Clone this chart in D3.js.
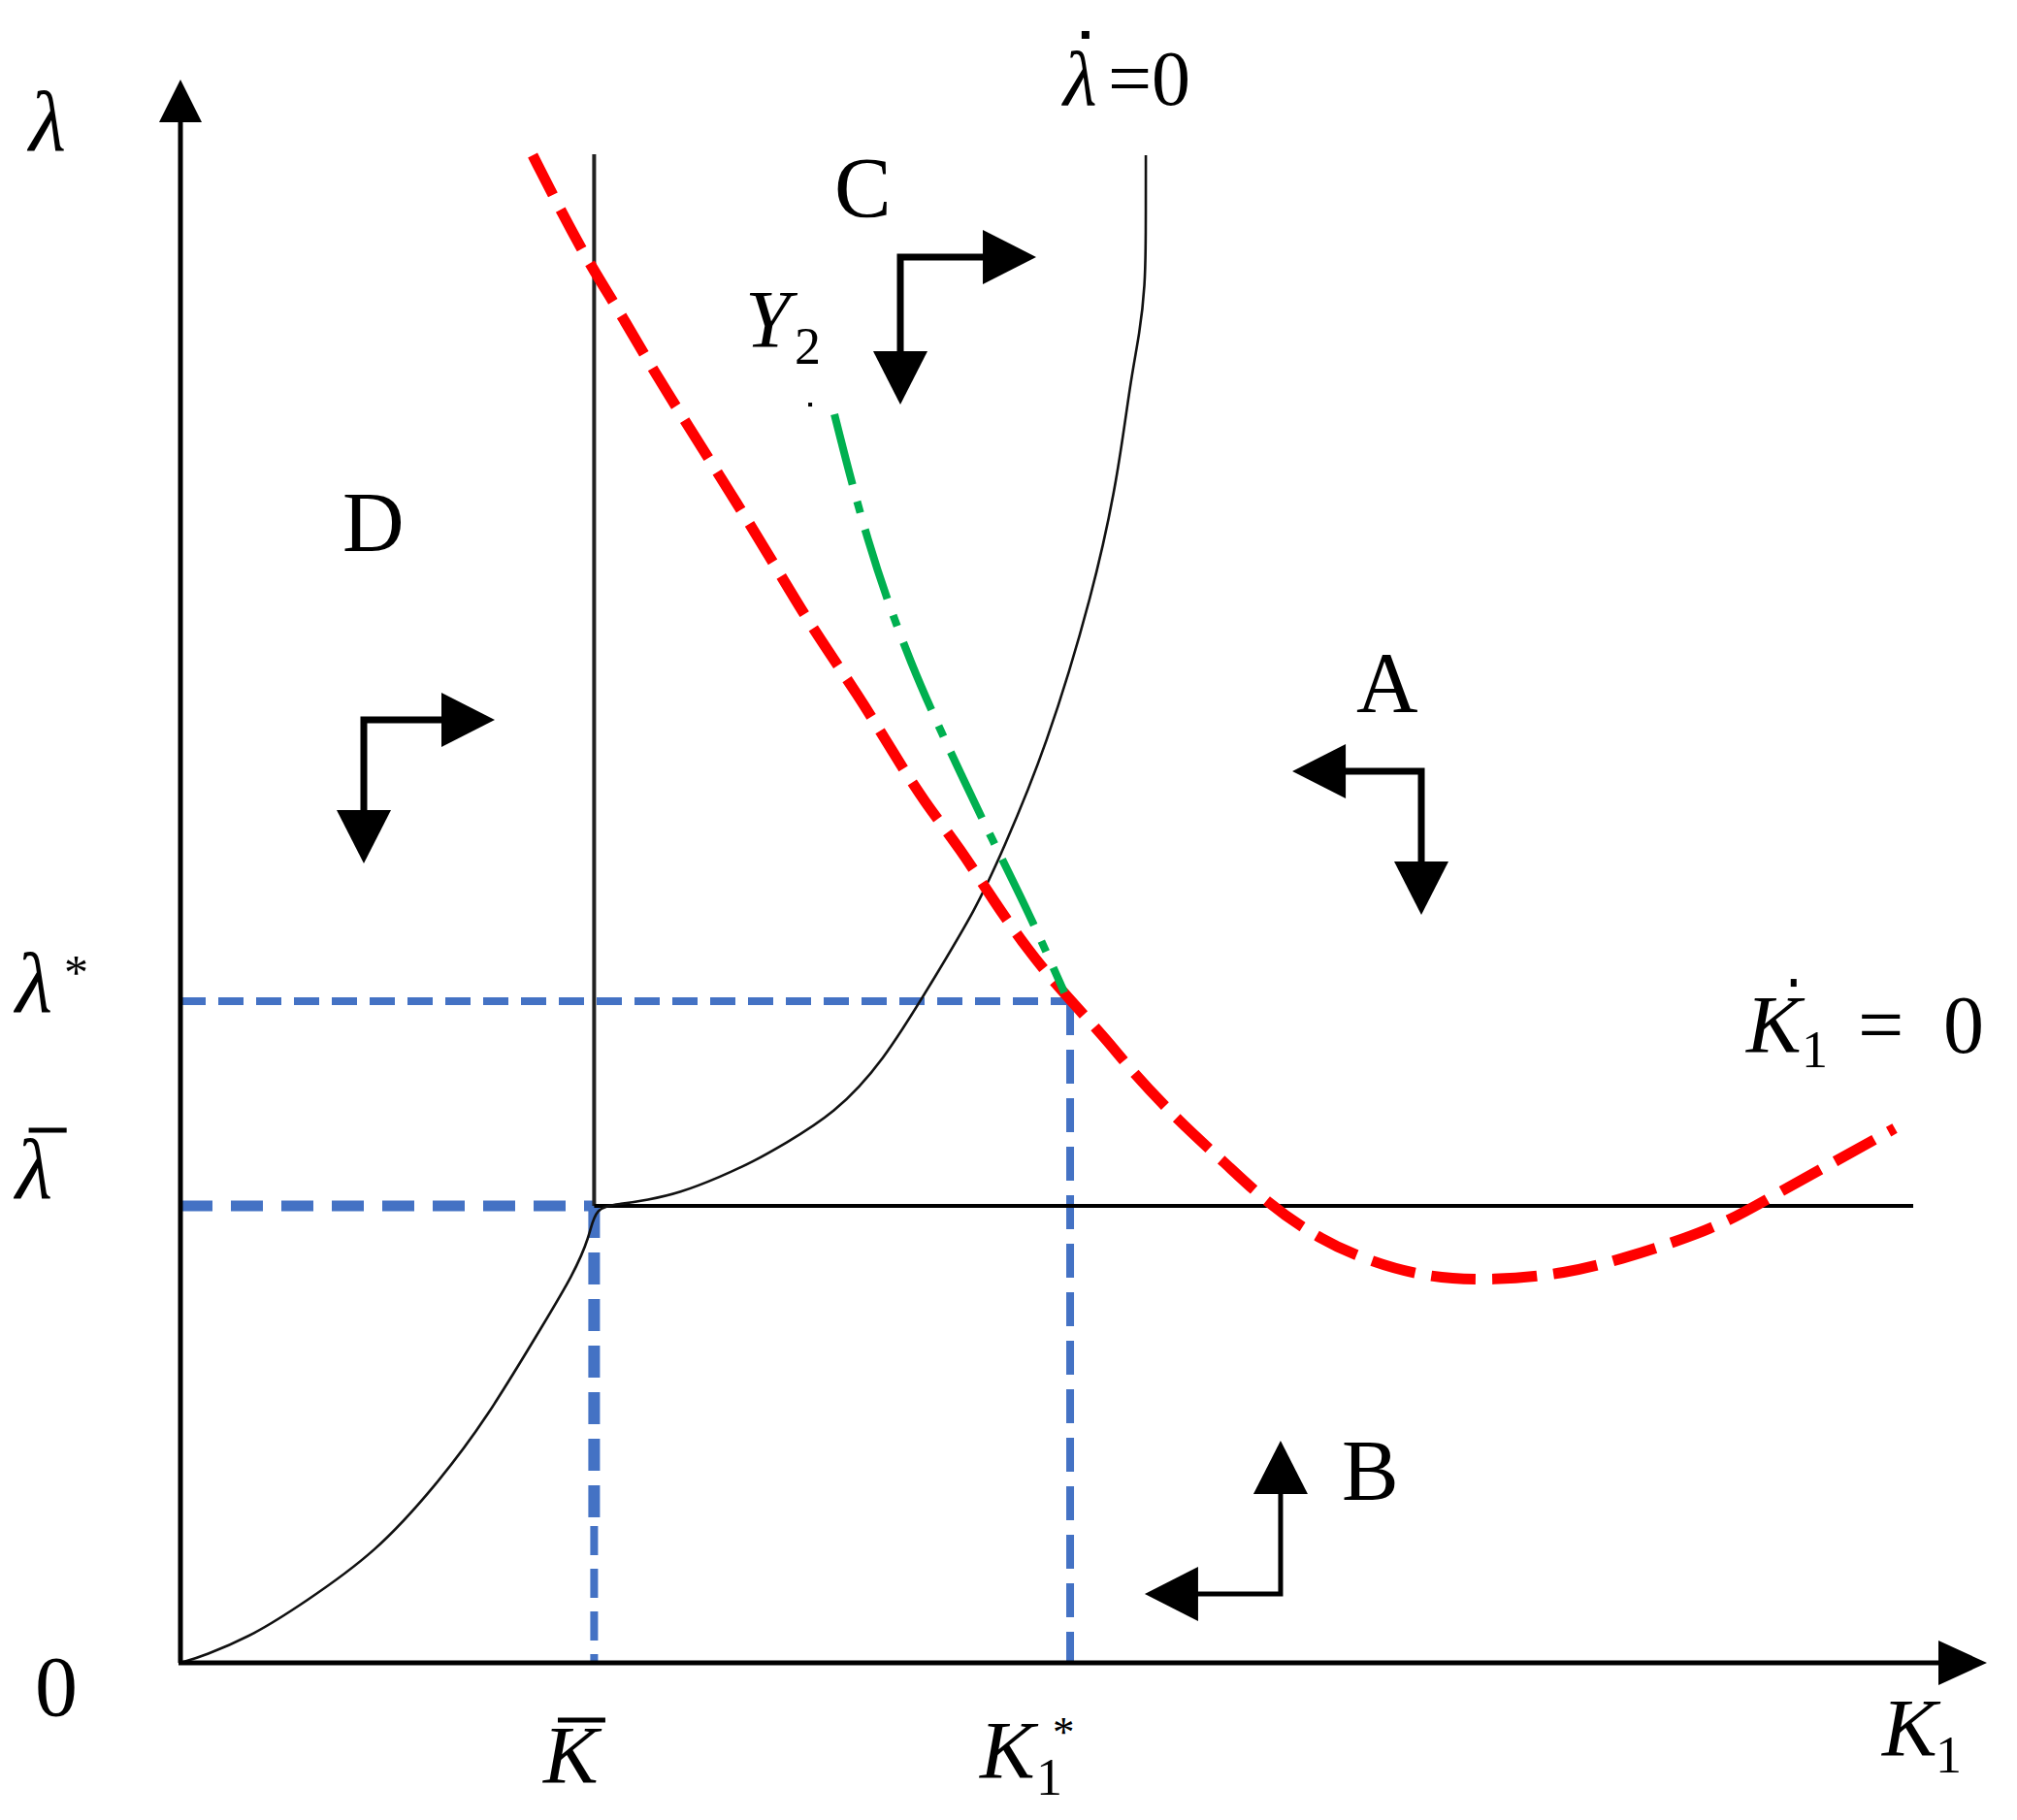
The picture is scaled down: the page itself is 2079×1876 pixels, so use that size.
<!DOCTYPE html>
<html>
<head>
<meta charset="utf-8">
<script src="https://cdn.jsdelivr.net/npm/d3@7"></script>
<style>
  html, body { margin: 0; padding: 0; background: #fff; }
  svg { display: block; }
  text { font-family: "Liberation Serif", "DejaVu Serif", serif; fill: #000; }
</style>
</head>
<body>
<svg id="chart" width="2079" height="1876"></svg>
<script>
// ---------- data (model units: K1 on 0..100, lambda on 0..100) ----------
const kBar = 22.9;
const kStar = 49.25;
const lambdaBar = 28.86;
const lambdaStar = 41.79;
const verticalLineTop = 95.28;
const horizontalLineEnd = 95.92;
const kBarThickEnd = 8.64;

// lambda-dot = 0 locus
const lambdaDotK = [0, 1.29, 4.08, 6.77, 10.85, 14.18, 16.86, 20.25, 21.70, 22.66, 22.93, 24.38, 25.83, 27.60, 29.91, 31.74, 33.35, 36.20, 38.88, 41.57, 44.09, 45.49, 47.91, 50.54, 51.88, 52.58, 53.11, 53.40, 53.44, 53.44];
const lambdaDotL = [0, 0.43, 1.78, 3.74, 6.99, 11.27, 15.26, 21.69, 24.45, 26.90, 28.80, 28.98, 29.23, 29.66, 30.70, 31.68, 32.72, 34.68, 37.93, 42.95, 47.73, 51.23, 57.72, 67.65, 74.82, 80.94, 84.01, 87.0, 90.0, 95.22];

// K1-dot = 0 locus (red dashed)
const k1DotK = [19.50, 21.16, 22.77, 24.60, 26.21, 32.06, 34.59, 37.65, 39.42, 41.19, 43.18, 45.06, 46.94, 48.71, 51.34, 52.47, 55.32, 57.73, 60.15, 63.00, 65.79, 69.01, 72.66, 76.69, 79.91, 82.76, 85.61, 88.40, 91.62, 94.90];
const k1DotL = [95.22, 91.48, 88.11, 84.80, 81.50, 71.02, 65.99, 60.91, 57.54, 54.35, 51.41, 48.04, 44.98, 42.52, 39.28, 37.62, 34.13, 31.68, 29.04, 26.78, 25.37, 24.33, 24.14, 24.57, 25.55, 26.59, 27.82, 29.66, 31.68, 33.76];

// saddle path Y2 (green dash-dot)
const y2K = [36.20, 37.97, 40.33, 43.45, 45.06, 46.94, 48.93];
const y2L = [78.86, 70.89, 63.17, 55.51, 51.72, 47.43, 42.34];
const y2Dot = [34.86, 79.47];

// phase arrows: corner, horizontal tip K, vertical tip lambda
const regionNames = ["C", "D", "A", "B"];
const arrowCornerK = [39.85, 10.15, 68.69, 60.90];
const arrowCornerL = [88.79, 59.56, 56.31, 4.35];
const arrowTipK = [47.37, 17.40, 61.55, 53.38];
const arrowTipL = [79.47, 50.49, 47.24, 14.03];
const regionLabelK = [36.20, 8.97, 65.09, 64.29];
const regionLabelL = [91.36, 70.22, 60.11, 10.36];

// ---------- scales ----------
const svg = d3.select("#chart");
const x = d3.scaleLinear().domain([0, 100]).range([186, 2048]);
const y = d3.scaleLinear().domain([0, 100]).range([1714, 82]);
const zip = (a, b) => a.map((v, i) => [v, b[i]]);
const line = d3.line().x(d => x(d[0])).y(d => y(d[1]));
const smooth = d3.line().x(d => x(d[0])).y(d => y(d[1])).curve(d3.curveBasis);

function head(g, tx, ty, dx, dy, len, half) {
  const bx = tx - dx * len, by = ty - dy * len;
  const px = -dy, py = dx;
  g.append("path")
    .attr("d", `M${tx},${ty}L${bx + px * half},${by + py * half}L${bx - px * half},${by - py * half}Z`)
    .attr("fill", "#000");
}

// ---------- blue reference lines ----------
const blue = "#4472c4";
svg.append("path").attr("d", line([[0, lambdaStar], [kStar, lambdaStar]]))
  .attr("stroke", blue).attr("stroke-width", 8).attr("stroke-dasharray", "26 13").attr("fill", "none");
svg.append("path").attr("d", line([[kStar, lambdaStar], [kStar, 0]]))
  .attr("stroke", blue).attr("stroke-width", 8).attr("stroke-dasharray", "35 15").attr("fill", "none");
svg.append("path").attr("d", line([[0, lambdaBar], [kBar, lambdaBar]]))
  .attr("stroke", blue).attr("stroke-width", 11).attr("stroke-dasharray", "33 19").attr("fill", "none");
svg.append("path").attr("d", line([[kBar, lambdaBar], [kBar, kBarThickEnd]]))
  .attr("stroke", blue).attr("stroke-width", 12).attr("stroke-dasharray", "33 15").attr("fill", "none");
svg.append("path").attr("d", line([[kBar, kBarThickEnd], [kBar, 0]]))
  .attr("stroke", blue).attr("stroke-width", 8).attr("stroke-dasharray", "30 14").attr("fill", "none");

// ---------- black boundary lines ----------
svg.append("path").attr("d", line([[kBar, verticalLineTop], [kBar, lambdaBar]]))
  .attr("stroke", "#222").attr("stroke-width", 4).attr("fill", "none");
svg.append("path").attr("d", line([[kBar, lambdaBar], [horizontalLineEnd, lambdaBar]]))
  .attr("stroke", "#000").attr("stroke-width", 4).attr("fill", "none");

// lambda-dot = 0 curve
svg.append("path").attr("d", smooth(zip(lambdaDotK, lambdaDotL)))
  .attr("stroke", "#111").attr("stroke-width", 2.6).attr("fill", "none");

// K1-dot = 0 (red)
svg.append("path").attr("d", smooth(zip(k1DotK, k1DotL)))
  .attr("stroke", "#ff0000").attr("stroke-width", 11).attr("stroke-dasharray", "46 17").attr("fill", "none");

// Y2 saddle path (green dash-dot)
svg.append("path").attr("d", smooth(zip(y2K, y2L)))
  .attr("stroke", "#00b050").attr("stroke-width", 8).attr("stroke-dasharray", "75 18 12 18").attr("fill", "none");
svg.append("rect").attr("x", x(y2Dot[0]) - 2).attr("y", y(y2Dot[1]) - 2).attr("width", 4).attr("height", 4).attr("fill", "#000");

// ---------- axes ----------
const axes = svg.append("g");
axes.append("line").attr("x1", x(0)).attr("y1", y(0)).attr("x2", x(0)).attr("y2", y(100) + 40)
  .attr("stroke", "#000").attr("stroke-width", 5);
head(axes, x(0), y(100), 0, -1, 44, 22);
axes.append("line").attr("x1", x(0) - 2).attr("y1", y(0)).attr("x2", x(100) - 45).attr("y2", y(0))
  .attr("stroke", "#000").attr("stroke-width", 5);
head(axes, x(100), y(0), 1, 0, 50, 23);

// ---------- phase arrows ----------
const arrowG = svg.append("g");
regionNames.forEach((name, i) => {
  const cx = x(arrowCornerK[i]), cy = y(arrowCornerL[i]);
  const hx = x(arrowTipK[i]), vy = y(arrowTipL[i]);
  const sw = name === "B" ? 5 : 7;
  const hdx = Math.sign(hx - cx), vdy = Math.sign(vy - cy);
  arrowG.append("path")
    .attr("d", `M${hx - hdx * 50},${cy}L${cx},${cy}L${cx},${vy - vdy * 50}`)
    .attr("stroke", "#000").attr("stroke-width", sw).attr("fill", "none").attr("stroke-linejoin", "miter");
  head(arrowG, hx, cy, hdx, 0, 55, 28);
  head(arrowG, cx, vy, 0, vdy, 55, 28);
  svg.append("text").attr("x", x(regionLabelK[i])).attr("y", y(regionLabelL[i]))
    .attr("font-size", 88).text(name);
});

// ---------- labels (one text element per label, parts as tspans) ----------
function label(parts) {
  const t = svg.append("text");
  parts.forEach(p => {
    t.append("tspan").attr("x", x(p[0])).attr("y", y(p[1]))
      .attr("font-size", p[3]).attr("font-style", p[4] ? "italic" : "normal").text(p[2]);
  });
  return t;
}
const bar = (k0, k1, l) => svg.append("line").attr("x1", x(k0)).attr("x2", x(k1))
  .attr("y1", y(l)).attr("y2", y(l)).attr("stroke", "#000").attr("stroke-width", 5);
const dot = (k, l, w, h) => svg.append("rect").attr("x", x(k) - w / 2).attr("y", y(l) - h / 2)
  .attr("width", w).attr("height", h).attr("fill", "#000");

// axis labels
label([[-8.38, 95.53, "λ", 88, true]]);
label([[-9.13, 41.12, "λ", 88, true], [-6.44, 42.59, "*", 50, false]]);
label([[-9.13, 29.35, "λ", 88, true]]);
bar(-8.4, -6.3, 33.64);
label([[-8.06, -3.31, "0", 88, false]]);

label([[20.09, -7.60, "K", 85, true]]);
bar(20.89, 23.52, -3.62);
label([[44.25, -7.29, "K", 85, true], [47.37, -8.33, "1", 54, false], [48.28, -5.27, "*", 45, false]]);
label([[94.20, -5.88, "K", 85, true], [97.15, -6.92, "1", 54, false]]);

// curve labels
label([[86.68, 38.54, "K", 85, true], [89.74, 37.62, "1", 54, false],
       [92.86, 38.54, "=", 84, false], [97.58, 38.54, "0", 84, false]]);
dot(89.3, 42.95, 6, 8);

label([[31.26, 83.09, "Y", 84, true]]);
label([[34.0, 82.05, "2", 54, false]]);

label([[48.87, 98.41, "λ", 80, true], [51.34, 98.41, "=0", 80, false]]);
dot(50.1, 102.82, 8, 8);
</script>
</body>
</html>
